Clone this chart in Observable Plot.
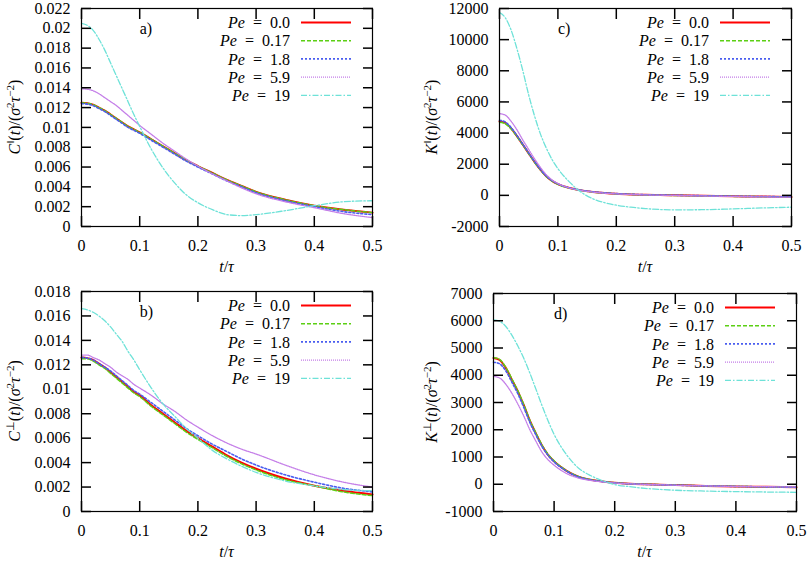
<!DOCTYPE html>
<html>
<head>
<meta charset="utf-8">
<script src="https://cdn.jsdelivr.net/npm/d3@7"></script>
<script src="https://cdn.jsdelivr.net/npm/@observablehq/plot@0.6"></script>
<style>
  body { margin: 0; background: #fff; }
  #wrap { position: relative; width: 810px; height: 567px; }
  #wrap svg { position: absolute; }
</style>
</head>
<body>
<div id="wrap"></div>
<script>
const tGrid = [0, 0.01, 0.02, 0.03, 0.04, 0.05, 0.06, 0.07, 0.08, 0.09, 0.1, 0.12, 0.14, 0.16, 0.18, 0.2, 0.225, 0.25, 0.275, 0.3, 0.35, 0.4, 0.45, 0.5];
const peValues = ["0.0", "0.17", "1.8", "5.9", "19"];
const xTicks = [0, 0.1, 0.2, 0.3, 0.4, 0.5];
const yTicksA = [0, 0.002, 0.004, 0.006, 0.008, 0.01, 0.012, 0.014, 0.016, 0.018, 0.02, 0.022];
const yTicksB = [0, 0.002, 0.004, 0.006, 0.008, 0.01, 0.012, 0.014, 0.016, 0.018];
const yTicksC = [-2000, 0, 2000, 4000, 6000, 8000, 10000, 12000];
const yTicksD = [-1000, 0, 1000, 2000, 3000, 4000, 5000, 6000, 7000];

const cParPe0   = [.0125,.01245,.0123,.0120,.0117,.0113,.0109,.0105,.0101,.0098,.0095,.0088,.0081,.0074,.0067,.0061,.0054,.0047,.0041,.0035,.0027,.0021,.0017,.0014];
const cParPe017 = [.0125,.01243,.0123,.0120,.0117,.0113,.0109,.0105,.0101,.0098,.0095,.0088,.0081,.0074,.0067,.0061,.0054,.0047,.0041,.0035,.0027,.0021,.0017,.0014];
const cParPe18  = [.0124,.01235,.0122,.0119,.0116,.0112,.0108,.0104,.0100,.0097,.0094,.0087,.0080,.0073,.0066,.0060,.0053,.0046,.0040,.0034,.0026,.0020,.0015,.0012];
const cParPe59  = [.0139,.01385,.0137,.0134,.0130,.0126,.0122,.0117,.0112,.0107,.0102,.0093,.0084,.0076,.0068,.0061,.0053,.0046,.0039,.0033,.0025,.0019,.0013,.0009];
const cParPe19  = [.0205,.0203,.0198,.0189,.0178,.0165,.0152,.0139,.0126,.0113,.0101,.0078,.0059,.0044,.0032,.0024,.0017,.0012,.0011,.0012,.0016,.0021,.0025,.0026];

const cPerPe0   = [.0126,.01255,.0124,.0121,.0118,.0114,.0110,.0106,.0102,.0098,.0095,.0087,.0080,.0073,.0066,.0060,.0053,.0046,.0040,.0035,.0027,.0021,.0017,.0014];
const cPerPe017 = [.0125,.0125,.0123,.0120,.0117,.0113,.0109,.0105,.0101,.0097,.0094,.0086,.0079,.0072,.0065,.0059,.0052,.0045,.0039,.0034,.0026,.0021,.0016,.0013];
const cPerPe18  = [.0126,.01255,.0124,.0121,.0118,.0115,.0111,.0107,.0103,.0099,.0096,.0089,.0082,.0075,.0068,.0062,.0055,.0049,.0043,.0038,.0030,.0024,.0019,.0016];
const cPerPe59  = [.0128,.0128,.0126,.0124,.0121,.0118,.0114,.0111,.0108,.0104,.0101,.0095,.0088,.0082,.0075,.0069,.0062,.0056,.0051,.0047,.0038,.0030,.0024,.0020];
const cPerPe19  = [.0166,.0165,.0163,.0160,.0156,.0151,.0145,.0139,.0131,.0124,.0116,.0101,.0088,.0078,.0068,.0060,.0050,.0043,.0037,.0032,.0025,.0021,.0018,.0017];

const kParPe0   = [4750,4650,4300,3800,3250,2700,2150,1650,1230,930,720,470,320,220,150,100,60,35,15,0,-30,-60,-80,-100];
const kParPe017 = [4700,4600,4260,3770,3230,2680,2130,1640,1220,920,710,460,310,210,145,95,55,30,10,-5,-35,-65,-85,-105];
const kParPe18  = [4820,4710,4350,3840,3280,2720,2170,1670,1250,950,740,480,330,230,160,110,70,40,20,5,-25,-55,-75,-95];
const kParPe59  = [5250,5150,4750,4200,3550,2950,2350,1800,1330,990,760,470,310,210,140,95,55,30,10,-5,-40,-70,-100,-120];
const kParPe19  = [11740,11400,10600,9400,8000,6450,5100,3950,3050,2300,1720,850,200,-220,-470,-630,-760,-850,-910,-930,-920,-870,-810,-760];

const kPerPe0   = [4630,4560,4280,3850,3420,2900,2330,1860,1420,1080,840,500,280,165,100,55,20,0,-15,-30,-60,-80,-95,-110];
const kPerPe017 = [4650,4580,4300,3880,3440,2920,2350,1880,1440,1100,860,510,285,170,100,55,20,0,-15,-30,-60,-80,-95,-110];
const kPerPe18  = [4480,4420,4170,3760,3330,2820,2270,1810,1390,1060,820,490,270,160,95,50,15,-5,-20,-35,-60,-80,-95,-110];
const kPerPe59  = [3960,3900,3680,3350,2950,2500,2000,1580,1180,900,700,400,230,140,85,45,15,-5,-20,-35,-60,-80,-90,-100];
const kPerPe19  = [6030,5980,5800,5480,5080,4620,4080,3490,2890,2330,1830,1100,600,320,130,-10,-90,-150,-190,-220,-250,-270,-285,-295];

const FONT = "Liberation Serif";
const lineColors = ["#ff0000", "#5ccf14", "#4a5df0", "#c47ee8", "#6ee2d8"];
const lineWidths = [2, 1.5, 1.6, 1.3, 1.3];
const lineDashes = [null, "4,2", "2,2", "1,1", "6,2,1.5,2"];
const TICK = 10;

function makePanel(cfg) {
  const W = 405, H = cfg.height;
  const rows = [];
  cfg.values.forEach((vals, s) => vals.forEach((v, i) => rows.push({t: tGrid[i], v, s})));
  const fmt = d => String(+d.toFixed(4));
  const empty = () => "";
  const tk = {tickSize: TICK, tickFormat: empty, label: null, stroke: "black", strokeWidth: 1.5};
  const plot = Plot.plot({
    width: W, height: H,
    marginLeft: cfg.mLeft, marginRight: cfg.mRight, marginTop: cfg.mTop, marginBottom: cfg.mBottom,
    style: {background: "transparent", color: "black", fontFamily: FONT, fontSize: "16px"},
    x: {domain: [0, 0.5]},
    y: {domain: cfg.yDomain},
    marks: [
      ...peValues.map((p, s) => Plot.line(rows.filter(d => d.s === s), {
        x: "t", y: "v", stroke: lineColors[s], strokeWidth: lineWidths[s],
        strokeDasharray: lineDashes[s], curve: "monotone-x"
      })),
      Plot.axisX({ticks: xTicks, anchor: "bottom", tickSize: 0, tickPadding: 13, tickFormat: fmt, label: null, fontSize: 16}),
      Plot.axisY({ticks: cfg.yTicks, anchor: "left", tickSize: 0, tickPadding: 11, tickFormat: fmt, label: null, fontSize: 16}),
      // mirrored inward ticks: Plot axis ticks shifted back inside the frame
      Plot.axisX({ticks: xTicks, anchor: "bottom", dy: -TICK, ...tk}),
      Plot.axisX({ticks: xTicks, anchor: "top", dy: TICK, ...tk}),
      Plot.axisY({ticks: cfg.yTicks, anchor: "left", dx: TICK, ...tk}),
      Plot.axisY({ticks: cfg.yTicks, anchor: "right", dx: -TICK, ...tk}),
      Plot.text([cfg.tag], {x: 0.1, frameAnchor: "top", dy: 14, textAnchor: "start", text: d => d, fontSize: 16, fontFamily: FONT}),
      Plot.frame({stroke: "black", strokeWidth: 1.2})
    ]
  });
  plot.style.left = cfg.left + "px";
  plot.style.top = cfg.top + "px";
  const sel = d3.select(plot);
  const left = cfg.mLeft, right = W - cfg.mRight, top = cfg.mTop, bottom = H - cfg.mBottom;
  peValues.forEach((p, s) => {
    const yRow = top + 14.5 + 18.2 * s;
    const txt = sel.append("text")
      .attr("x", right - 82).attr("y", yRow).attr("dy", "0.35em")
      .attr("text-anchor", "end").attr("font-size", 16).attr("fill", "black");
    txt.append("tspan").attr("font-style", "italic").text("Pe");
    txt.append("tspan").text("\u2002=\u2002" + p);
    const ln = sel.append("line")
      .attr("x1", right - 71).attr("x2", right - 21).attr("y1", yRow).attr("y2", yRow)
      .attr("stroke", lineColors[s]).attr("stroke-width", lineWidths[s]);
    if (lineDashes[s]) ln.attr("stroke-dasharray", lineDashes[s]);
  });
  const cy = (top + bottom) / 2;
  const yl = sel.append("text")
    .attr("transform", `translate(${cfg.ylx},${cy}) rotate(-90)`)
    .attr("text-anchor", "middle").attr("dy", "0.35em").attr("font-size", 16).attr("fill", "black");
  yl.append("tspan").attr("font-style", "italic").text(cfg.sym);
  yl.append("tspan").attr("font-size", 11).attr("dy", -6).text(cfg.sup);
  yl.append("tspan").attr("dy", 6).text("(");
  yl.append("tspan").attr("font-style", "italic").text("t");
  yl.append("tspan").text(")/(");
  yl.append("tspan").attr("font-style", "italic").text("σ");
  yl.append("tspan").attr("font-size", 11).attr("dy", -6).text("2");
  yl.append("tspan").attr("font-style", "italic").attr("dy", 6).text("τ");
  yl.append("tspan").attr("font-size", 11).attr("dy", -6).text("−2");
  yl.append("tspan").attr("dy", 6).text(")");
  const xl = sel.append("text")
    .attr("x", (left + right) / 2).attr("y", bottom + 40).attr("dy", "0.35em")
    .attr("text-anchor", "middle").attr("font-size", 16).attr("fill", "black");
  xl.append("tspan").attr("font-style", "italic").text("t");
  xl.append("tspan").text("/");
  xl.append("tspan").attr("font-style", "italic").text("τ");
  sel.selectAll("text").attr("font-family", FONT);
  document.getElementById("wrap").appendChild(plot);
}

makePanel({values: [cParPe0, cParPe017, cParPe18, cParPe59, cParPe19], yDomain: [0, 0.022], yTicks: yTicksA,
  tag: "a)", sym: "C", sup: "‖", left: 0, top: 0, height: 283, mLeft: 81, mRight: 33, mTop: 8, mBottom: 57, ylx: 14});
makePanel({values: [kParPe0, kParPe017, kParPe18, kParPe59, kParPe19], yDomain: [-2000, 12000], yTicks: yTicksC,
  tag: "c)", sym: "K", sup: "‖", left: 405, top: 0, height: 283, mLeft: 94, mRight: 19, mTop: 8, mBottom: 57, ylx: 26});
makePanel({values: [cPerPe0, cPerPe017, cPerPe18, cPerPe59, cPerPe19], yDomain: [0, 0.018], yTicks: yTicksB,
  tag: "b)", sym: "C", sup: "⊥", left: 0, top: 283, height: 284, mLeft: 81, mRight: 33, mTop: 8, mBottom: 56, ylx: 14});
makePanel({values: [kPerPe0, kPerPe017, kPerPe18, kPerPe59, kPerPe19], yDomain: [-1000, 7000], yTicks: yTicksD,
  tag: "d)", sym: "K", sup: "⊥", left: 405, top: 283, height: 284, mLeft: 88, mRight: 14, mTop: 10, mBottom: 56, ylx: 26});
</script>
</body>
</html>
